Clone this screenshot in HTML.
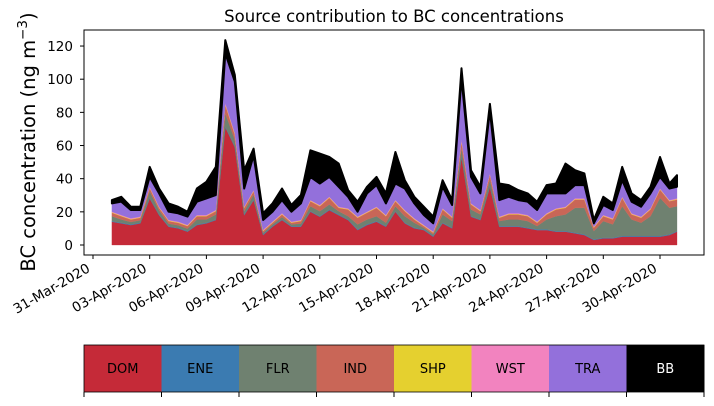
<!DOCTYPE html>
<html><head><meta charset="utf-8">
<style>
body{margin:0;background:#fff;width:714px;height:402px;overflow:hidden;font-family:"DejaVu Sans","Liberation Sans",sans-serif;}
svg text{font-family:"DejaVu Sans","Liberation Sans",sans-serif;}
</style></head>
<body>
<svg id="chart" width="714" height="402" viewBox="0 0 714 402" xmlns="http://www.w3.org/2000/svg">
<text x="394" y="22" font-size="16.5" text-anchor="middle">Source contribution to BC concentrations</text>
<text transform="translate(35,142) rotate(-90)" font-size="19.5" text-anchor="middle">BC concentration (ng m<tspan font-size="13.5" dy="-8">−3</tspan><tspan dy="8">)</tspan></text>
<g id="areas"></g>
<rect x="84" y="30" width="620" height="225" fill="none" stroke="#000" stroke-width="1"/>
<g id="yaxis"></g>
<g id="xaxis"></g>
<g id="legend"></g>
</svg>
<script>
// time in days since 31-Mar-2020 00:00
const days = [1.0,1.5,2.0,2.5,3.0,3.5,4.0,4.5,5.0,5.5,6.0,6.5,7.0,7.5,8.0,8.5,9.0,9.5,10.0,10.5,11.0,11.5,12.0,12.5,13.0,13.5,14.0,14.5,15.0,15.5,16.0,16.5,17.0,17.5,18.0,18.5,19.0,19.5,20.0,20.5,21.0,21.5,22.0,22.5,23.0,23.5,24.0,24.5,25.0,25.5,26.0,26.5,27.0,27.5,28.0,28.5,29.0,29.5,30.0,30.5,30.9];
const DOM = [14,13,12,13,28,18,11,10,8,12,13,15,71,59,18,27,6,11,15,11,11,20,17,21,18,15,9,12,14,11,20,13,10,9,5,13,10,53,17,15,35,11,11,11,10,9,9,8,8,7,6,3,4,4,5,5,5,5,5,6,8];
const ENE = [0.4,0.4,0.4,0.4,0.4,0.4,0.4,0.4,0.4,0.4,0.4,0.4,0.5,0.5,0.4,0.4,0.4,0.4,0.4,0.4,0.4,0.4,0.4,0.4,0.4,0.4,0.4,0.4,0.4,0.4,0.4,0.4,0.4,0.4,0.4,0.4,0.4,0.5,0.4,0.4,0.4,0.4,0.4,0.4,0.4,0.4,0.4,0.4,0.4,0.4,0.4,0.4,0.4,0.4,0.4,0.4,0.4,0.4,0.4,0.4,0.4];
const FLR = [3,2,1.5,1.5,4,2.5,1.5,1.5,1.5,3,2,3,8,4,2,3,1,1,1.5,1,1.5,3,3,3,2,2,3,3,3,2,3,4,3,1,1,5,4,5,4,3,4,3,4,4,4,2,6,9,10,15,16,5,10,8,18,10,8,12,23,16,15];
const IND = [2,2,1.5,1.5,2,1.5,1.5,1.5,1.5,2,2,2,5,3,2,2,1,1,1.5,1,1.5,3,3,4,2,4,4,4,5,4,3,3,2,1,1,3,2,4,3,2,3,2,3,3,3,2,3,4,4,5,5,2,3,3,5,3,3,4,5,4,4];
const SHP = [0.3,0.3,0.3,0.3,0.3,0.3,0.3,0.3,0.3,0.3,0.3,0.3,0.5,0.5,0.3,0.3,0.3,0.3,0.3,0.3,0.3,0.3,0.3,0.3,0.3,0.3,0.3,0.3,0.3,0.3,0.3,0.3,0.3,0.3,0.3,0.3,0.3,0.5,0.3,0.3,0.3,0.3,0.3,0.3,0.3,0.3,0.3,0.3,0.3,0.3,0.3,0.3,0.3,0.3,0.3,0.3,0.3,0.3,0.3,0.3,0.3];
const WST = [0.4,0.4,0.4,0.4,0.4,0.4,0.4,0.4,0.4,0.4,0.4,0.4,0.6,0.6,0.4,0.4,0.4,0.4,0.4,0.4,0.4,0.4,0.4,0.4,0.4,0.4,0.4,0.4,0.4,0.4,0.4,0.4,0.4,0.4,0.4,0.4,0.4,0.6,0.4,0.4,0.4,0.4,0.4,0.4,0.4,0.4,0.4,0.4,0.4,0.4,0.4,0.4,0.4,0.4,0.4,0.4,0.4,0.4,0.4,0.4,0.4];
const TRA = [5,8,5,4,6,8,5,5,5,8,10,9,30,31,11,21,6,6,8,6,10,14,13,12,12,7,3,11,13,7,10,13,9,6,5,13,7,37,16,10,38,10,10,8,8,7,12,9,8,8,8,2,6,5,10,7,6,9,7,7,7];
const BB = [2,3,2,2,6,3,5,4,3,8,10,17,8,4,11,4,4,5,7,4,5,16,18,12,14,4,6,4,5,6,19,5,4,5,4,4,3,6,4,4,4,10,7,6,5,5,5,6,18,9,7,2,5,4,8,5,4,4,12,3,7];
const sources = ["DOM","ENE","FLR","IND","SHP","WST","TRA","BB"];
const colors = ["#c52a38","#3b7bb1","#6f8170","#c96657","#e5d02f","#f283bf","#9370db","#000000"];
const yTicks = [0,20,40,60,80,100,120];
const xTickLabels = ["31-Mar-2020","03-Apr-2020","06-Apr-2020","09-Apr-2020","12-Apr-2020","15-Apr-2020","18-Apr-2020","21-Apr-2020","24-Apr-2020","27-Apr-2020","30-Apr-2020"];
const xTickDays = [0,3,6,9,12,15,18,21,24,27,30];

const NS = "http://www.w3.org/2000/svg";
const xS = d => 93 + d*18.9;
const yS = v => 245 - v*1.658;
function mk(tag, attrs, parent){const e=document.createElementNS(NS,tag);for(const k in attrs)e.setAttribute(k,attrs[k]);parent.appendChild(e);return e;}

const series = [DOM,ENE,FLR,IND,SHP,WST,TRA,BB];
const areas = document.getElementById("areas");
let base = days.map(()=>0);
series.forEach((s,i)=>{
  const top = base.map((b,j)=>b+s[j]);
  let d = "M"+days.map((t,j)=>xS(t).toFixed(1)+","+yS(top[j]).toFixed(1)).join("L");
  for(let j=days.length-1;j>=0;j--) d += "L"+xS(days[j]).toFixed(1)+","+yS(base[j]).toFixed(1);
  d += "Z";
  const p = mk("path",{d:d,fill:colors[i],stroke:colors[i],"stroke-width":i===7?2:0.3,"stroke-linejoin":"round"},areas);
  
  
  base = top;
});

const ya = document.getElementById("yaxis");
yTicks.forEach(v=>{
  const l = mk("line",{x1:80,x2:84,y1:yS(v),y2:yS(v),stroke:"#000"},ya);
  
  
  const t = mk("text",{x:73,y:yS(v)+5,"font-size":"13.5","text-anchor":"end"},ya);
  t.textContent = v;
  
  
});
const xa = document.getElementById("xaxis");
xTickDays.forEach((d,i)=>{
  const x = xS(d);
  const l = mk("line",{x1:x,x2:x,y1:255,y2:259,stroke:"#000"},xa);
  
  
  const t = mk("text",{transform:`translate(${x-2},${271}) rotate(-30)`,"font-size":"13.5","text-anchor":"end"},xa);
  t.textContent = xTickLabels[i];
  
  
});

const lg = document.getElementById("legend");
const cw = 620/8;
sources.forEach((s,i)=>{
  const x = 84 + i*cw;
  const r = mk("rect",{x:x,y:345,width:cw+0.5,height:47,fill:colors[i]},lg);
  
  
  const t = mk("text",{x:x+cw/2,y:373,"font-size":"13","text-anchor":"middle",fill:i===7?"#fff":"#000"},lg);
  t.textContent = s;
  
  
});
for(let i=0;i<=8;i++){
  const x = 84 + i*cw;
  const l = mk("line",{x1:x,x2:x,y1:392,y2:397,stroke:"#000"},lg);
  
  
}
const fr = mk("rect",{x:84,y:345,width:620,height:47,fill:"none",stroke:"#000","stroke-width":0.8},lg);


</script>
</body></html>
